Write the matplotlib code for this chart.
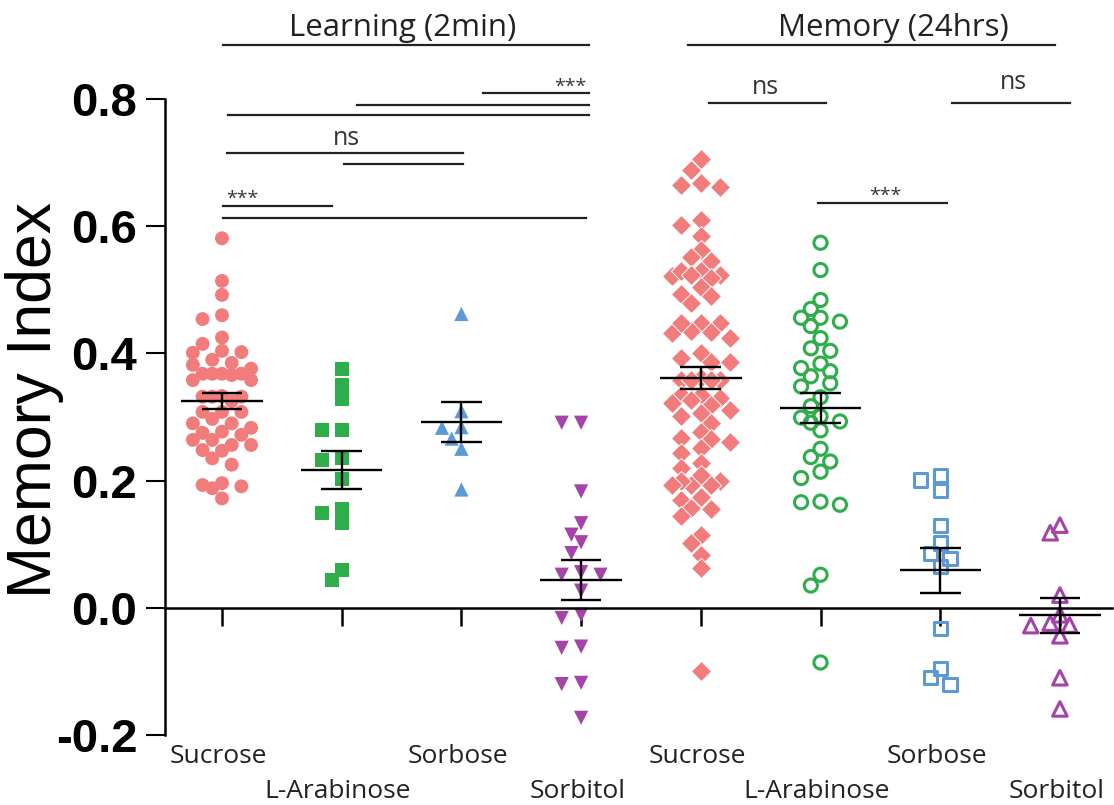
import numpy as np
import matplotlib
matplotlib.use("Agg")
import matplotlib.pyplot as plt

# ---- data ----
categories = ["Sucrose", "L-Arabinose", "Sorbose", "Sorbitol",
              "Sucrose", "L-Arabinose", "Sorbose", "Sorbitol"]
phases = ["Learning (2min)", "Memory (24hrs)"]

sucrose_learn = [0.581, 0.514, 0.492, 0.460, 0.454, 0.425, 0.415, 0.404, 0.401, 0.402,
                 0.390, 0.385, 0.376, 0.382, 0.366, 0.368, 0.368, 0.368, 0.368, 0.358,
                 0.358, 0.332, 0.332, 0.332, 0.333, 0.325, 0.308, 0.308, 0.308, 0.297,
                 0.290, 0.290, 0.277, 0.283, 0.272, 0.275, 0.264, 0.264, 0.256, 0.256,
                 0.247, 0.248, 0.235, 0.225, 0.191, 0.196, 0.193, 0.188, 0.172]
arabinose_learn = [0.375, 0.351, 0.329, 0.279, 0.279, 0.235, 0.233, 0.203,
                   0.149, 0.156, 0.133, 0.044, 0.059]
sorbose_learn = [0.462, 0.309, 0.283, 0.284, 0.266, 0.250, 0.186]
sorbitol_learn = [0.291, 0.291, 0.183, 0.133, 0.115, 0.103, 0.086, 0.052, 0.056,
                  0.052, 0.027, -0.011, -0.016, -0.063, -0.061, -0.118, -0.120, -0.173]

sucrose_mem = [0.705, 0.689, 0.668, 0.661, 0.664, 0.602, 0.610, 0.585, 0.563, 0.551,
               0.545, 0.530, 0.524, 0.522, 0.518, 0.529, 0.524, 0.505, 0.494, 0.480,
               0.491, 0.448, 0.432, 0.436, 0.424, 0.448, 0.434, 0.448, 0.393, 0.401,
               0.386, 0.386, 0.361, 0.358, 0.358, 0.358, 0.358, 0.335, 0.335, 0.330,
               0.327, 0.319, 0.322, 0.306, 0.311, 0.301, 0.291, 0.277, 0.265, 0.261,
               0.267, 0.251, 0.243, 0.220, 0.228, 0.193, 0.199, 0.193, 0.199, 0.193,
               0.209, 0.170, 0.174, 0.155, 0.157, 0.145, 0.115, 0.102, 0.083, 0.062,
               -0.100]
arabinose_mem = [0.574, 0.531, 0.484, 0.470, 0.456, 0.450, 0.456, 0.443, 0.424, 0.404,
                 0.408, 0.377, 0.384, 0.372, 0.364, 0.348, 0.353, 0.331, 0.317, 0.301,
                 0.299, 0.291, 0.293, 0.279, 0.250, 0.237, 0.230, 0.214, 0.204, 0.167,
                 0.162, 0.166, 0.052, 0.035, -0.086]
sorbose_mem = [0.201, 0.184, 0.208, 0.130, 0.102, 0.086, 0.077, 0.065,
               -0.032, -0.095, -0.121, -0.110]
sorbitol_mem = [0.118, 0.130, 0.020, -0.011, -0.027, -0.024, -0.028, -0.044,
                -0.110, -0.159]

means = [0.325, 0.217, 0.292, 0.044, 0.361, 0.314, 0.059, -0.012]
sems = [0.013, 0.030, 0.032, 0.031, 0.017, 0.024, 0.035, 0.028]

# significance bars: (start, end, level) in category units / index units
brackets = [(2.18, 3.07, 0.810), (1.13, 3.07, 0.791), (0.05, 3.07, 0.775),
            (0.04, 2.01, 0.715), (1.02, 2.01, 0.698), (0.01, 0.92, 0.632),
            (0.01, 3.04, 0.613),
            (4.07, 5.05, 0.794), (6.10, 7.08, 0.794), (4.98, 6.06, 0.637)]
sig_labels = [("***", 2.91, 0.812), ("ns", 1.04, 0.728), ("***", 0.17, 0.635),
              ("ns", 4.54, 0.808), ("ns", 6.61, 0.816), ("***", 5.54, 0.640)]
phase_spans = [(0.01, 3.07), (3.89, 6.96)]
phase_label_x = [1.51, 5.61]

groups = [sucrose_learn, arabinose_learn, sorbose_learn, sorbitol_learn,
          sucrose_mem, arabinose_mem, sorbose_mem, sorbitol_mem]

pink = "#F27C7C"
green = "#2EAD4B"
blue = "#5C9AD6"
purple = "#A444A8"
styles = [
    dict(marker="o", s=100, c=pink, edgecolors="none"),
    dict(marker="s", s=100, c=green, edgecolors="none"),
    dict(marker="^", s=105, c=blue, edgecolors="none"),
    dict(marker="v", s=105, c=purple, edgecolors="none"),
    dict(marker="D", s=105, c=pink, edgecolors="white", linewidths=0.7),
    dict(marker="o", s=90, facecolors="none", edgecolors=green, linewidths=2.2),
    dict(marker="s", s=90, facecolors="none", edgecolors=blue, linewidths=2.2),
    dict(marker="^", s=110, facecolors="none", edgecolors=purple, linewidths=2.2),
]

X_PX = 119.7   # pixels per category
Y_PX = 636.0   # pixels per index unit


def swarm_offsets(vals, step=9.7, gap=12.0, kmax=3):
    # simple grid swarm: nearest free column, never wider than +-kmax steps
    ys = np.asarray(vals) * Y_PX
    offs = np.zeros(len(ys))
    placed = []
    cands = [0]
    for k in range(1, kmax + 1):
        cands += [-k, k]
    for i in np.argsort(-ys):
        best, best_d = 0.0, -1.0
        for k in cands:
            x = k * step
            d = min([np.hypot(x - px, ys[i] - py) for px, py in placed] or [1e9])
            if d >= gap:
                best = x
                break
            if d > best_d:
                best, best_d = x, d
        placed.append((best, ys[i]))
        offs[i] = best
    return offs / X_PX


fig = plt.figure(figsize=(11.14, 8.05), dpi=100)
ax = fig.add_axes([165 / 1114, 70 / 805, (1112 - 165) / 1114, (735 - 99) / 805])
ax.set_xlim(-0.476, 7.435)
ax.set_ylim(-0.2, 0.8)

for i, (vals, st) in enumerate(zip(groups, styles)):
    xs = i + swarm_offsets(vals)
    ax.scatter(xs, vals, zorder=2, clip_on=False, **st)

# mean +/- SEM
for i, (m, e) in enumerate(zip(means, sems)):
    ax.hlines(m, i - 0.34, i + 0.34, color="black", lw=1.7, zorder=3)
    ax.hlines([m - e, m + e], i - 0.17, i + 0.17, color="black", lw=1.7, zorder=3)
    ax.vlines(i, m - e, m + e, color="black", lw=1.7, zorder=3)

# spines / ticks
for side in ["top", "right"]:
    ax.spines[side].set_visible(False)
ax.spines["bottom"].set_position(("data", 0))
ax.spines["left"].set_linewidth(1.8)
ax.spines["bottom"].set_linewidth(1.8)
ax.set_xticks(range(8))
ax.set_xticklabels([])
ax.tick_params(axis="x", direction="out", length=13, width=1.8)
ax.set_yticks([-0.2, 0.0, 0.2, 0.4, 0.6, 0.8])
ax.set_yticklabels(["-0.2", "0.0", "0.2", "0.4", "0.6", "0.8"])
ax.tick_params(axis="y", direction="out", length=14, width=1.5, pad=6)
for lab in ax.get_yticklabels():
    lab.set_fontfamily("Liberation Sans")
    lab.set_fontweight("bold")
    lab.set_fontsize(34)

fig.text(35 / 1114, 0.503, "Memory Index", rotation=90, ha="center", va="center",
         fontsize=45, family="Liberation Sans")

# category labels, staggered
for i, name in enumerate(categories):
    y = -0.234 if i % 2 == 0 else -0.289
    ax.text(i - 0.03, y, name, ha="center", va="center", fontsize=19,
            family="Open Sans", color="#222222", clip_on=False)

# phase headers
for (x0, x1), lx, name in zip(phase_spans, phase_label_x, phases):
    ax.plot([x0, x1], [0.885, 0.885], color="#222222", lw=1.6, clip_on=False)
    ax.text(lx, 0.912, name, ha="center", va="center",
            fontsize=22.5, family="Open Sans", color="#222222", clip_on=False)

for x0, x1, y in brackets:
    ax.plot([x0, x1], [y, y], color="#222222", lw=1.6, clip_on=False)
for txt, x, y in sig_labels:
    fs = 14 if txt == "***" else 18
    ax.text(x, y, txt, ha="center", va="baseline", fontsize=fs,
            family="Open Sans", color="#333333", clip_on=False)

fig.savefig("out.png", dpi=100)
